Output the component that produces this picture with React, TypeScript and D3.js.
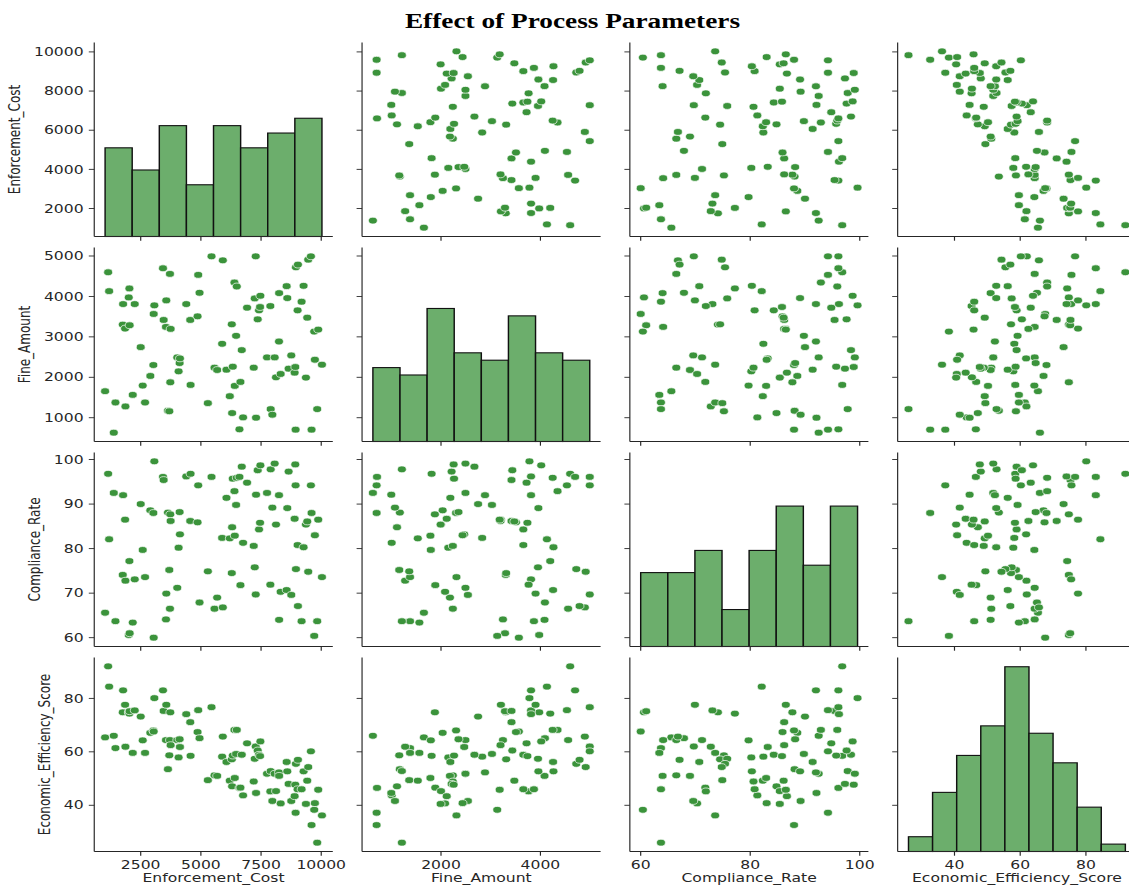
import React from 'react';
import * as d3 from 'd3';

// per-record values
const enforcementCost = [
  1020, 1147, 1188, 1381, 1450, 1754, 1768, 1851, 1865, 2003,
  2030, 2040, 2169, 2251, 2500, 2583, 2680, 2900, 3025, 3039,
  3066, 3425, 3453, 3550, 3563, 3632, 3688, 3715, 3729, 3743,
  4019, 4074, 4116, 4130, 4392, 4558, 4572, 4862, 4889, 4944,
  5290, 5442, 5566, 5676, 5883, 5911, 6063, 6201, 6284, 6298,
  6325, 6394, 6408, 6463, 6491, 6602, 6643, 6698, 6753, 6919,
  7195, 7237, 7278, 7292, 7361, 7416, 7458, 7472, 7748, 7886,
  7900, 7969, 8065, 8121, 8245, 8250, 8314, 8563, 8590, 8645,
  8756, 8894, 8922, 8935, 8949, 9018, 9032, 9184, 9267, 9364,
  9419, 9460, 9571, 9598, 9709, 9736, 9833, 9875, 10030,
];

const fineAmount = [
  1656, 4598, 4131, 630, 1377, 3303, 3811, 3205, 1279, 3975,
  4197, 3287, 1565, 3811, 2746, 1795, 1377, 2033, 2303, 3566,
  3779, 4697, 3418, 3246, 3902, 1172, 1160, 4557, 1877, 3197,
  2492, 2147, 2352, 2467, 3811, 3418, 1811, 3508, 4533, 4090,
  1361, 4992, 2238, 2180, 2828, 4893, 2188, 1533, 3311, 1115,
  2262, 4344, 1787, 3025, 4246, 713, 1885, 2672, 1008, 3721,
  2238, 3951, 4992, 1000, 3434, 3656, 3738, 4016, 2492, 3762,
  1213, 1074, 2492, 2000, 2885, 4082, 2082, 4254, 3959, 2213,
  2541, 2115, 2254, 705, 4721, 3656, 4787, 3869, 4262, 1992,
  3475, 4910, 4992, 705, 3131, 2434, 1213, 3180, 2311,
];

const complianceRate = [
  65.6, 96.8, 82.1, 92.5, 63.7, 74.1, 92.0, 86.5, 72.8, 60.6,
  77.2, 61.0, 63.4, 73.1, 90.0, 79.7, 73.6, 88.6, 88.0, 60.0,
  99.6, 96.1, 95.4, 64.1, 69.9, 88.1, 75.2, 66.5, 87.7, 86.2,
  71.2, 80.2, 88.2, 83.2, 96.2, 86.2, 96.8, 85.9, 94.2, 67.9,
  74.9, 96.1, 66.5, 69.0, 82.4, 66.8, 91.4, 82.3, 74.5, 84.8,
  95.7, 92.9, 82.9, 89.8, 95.9, 96.1, 71.8, 98.4, 81.3, 94.8,
  80.6, 75.8, 69.7, 92.1, 97.6, 84.3, 85.8, 98.7, 92.5, 71.9,
  97.8, 89.2, 99.1, 85.4, 92.0, 64.0, 70.3, 70.7, 89.1, 97.3,
  69.6, 86.7, 98.9, 94.2, 75.4, 80.8, 67.1, 63.7, 80.3, 85.4,
  86.1, 74.8, 94.2, 88.0, 60.4, 83.0, 63.7, 86.5, 73.6,
];

const efficiencyScore = [
  65.4, 92.0, 84.4, 66.0, 61.4, 74.8, 83.0, 77.6, 61.9, 74.8,
  74.3, 75.2, 59.6, 75.5, 73.2, 64.3, 59.6, 67.1, 68.0, 67.6,
  80.1, 83.0, 75.3, 64.4, 77.6, 53.5, 58.7, 64.4, 74.8, 62.5,
  64.4, 57.9, 64.7, 61.8, 74.1, 71.1, 58.5, 67.4, 75.6, 65.1,
  49.4, 76.7, 51.2, 51.0, 58.2, 65.7, 56.2, 49.2, 57.2, 47.1,
  58.6, 68.2, 50.2, 59.2, 68.2, 46.5, 46.6, 58.9, 43.7, 63.2,
  48.9, 57.4, 62.0, 44.6, 60.5, 58.9, 58.4, 63.9, 51.8, 45.2,
  52.8, 41.6, 51.8, 45.3, 52.3, 51.0, 40.7, 56.2, 52.7, 48.0,
  41.6, 43.4, 47.7, 37.2, 55.5, 46.0, 57.0, 46.0, 52.7, 40.5,
  49.2, 54.3, 60.2, 32.6, 38.3, 40.8, 26.0, 45.8, 36.2,
];

// histogram counts on the diagonal
const ecCounts = [12, 9, 15, 7, 15, 12, 14, 16];
const faCounts = [10, 9, 18, 12, 11, 17, 12, 11];
const crCounts = [10, 10, 13, 5, 13, 19, 11, 19];
const eesCounts = [2, 8, 13, 17, 25, 16, 12, 6, 1];

const varNames = ['Enforcement_Cost', 'Fine_Amount', 'Compliance_Rate', 'Economic_Efficiency_Score'];
const xTickValues = [[2500, 5000, 7500, 10000], [2000, 4000], [60, 80, 100], [40, 60, 80]];
const yTickValues = [[2000, 4000, 6000, 8000, 10000], [1000, 2000, 3000, 4000, 5000], [60, 70, 80, 90, 100], [40, 60, 80]];

const W = 1129;
const H = 888;
const SX = 1.3; // the picture is stretched sideways
const colX0 = 72.5;
const colStep = 206;
const panelW = 183.5;
const rowY0 = 42.5;
const rowStep = 205;
const panelH = 194;
const tickLen = 4.2;
const digitW = 7.63;

const pointColor = '#3b933b';
const barColor = '#6cae6c';
const ink = '#262626';
const font = 'DejaVu Sans, sans-serif';

export default function App() {
  const series = [enforcementCost, fineAmount, complianceRate, efficiencyScore];
  const counts = [ecCounts, faCounts, crCounts, eesCounts];

  const extents = series.map(s => d3.extent(s) as [number, number]);
  const domains = extents.map(([lo, hi]) => {
    const pad = (hi - lo) * 0.05;
    return [lo - pad, hi + pad];
  });
  const xScales = domains.map((d, j) =>
    d3.scaleLinear().domain(d).range([colX0 + j * colStep, colX0 + j * colStep + panelW]));
  const yScales = domains.map((d, i) =>
    d3.scaleLinear().domain(d).range([rowY0 + i * rowStep + panelH, rowY0 + i * rowStep]));

  // diagonal axes share their count scale
  const countMax = (d3.max(counts.flat()) ?? 1) * 1.05;

  const panels: React.ReactNode[] = [];
  for (let i = 0; i < 4; i++) {
    for (let j = 0; j < 4; j++) {
      const x = xScales[j];
      const y = yScales[i];
      const left = colX0 + j * colStep;
      const top = rowY0 + i * rowStep;
      const bottom = top + panelH;
      let marks: React.ReactNode;
      if (i === j) {
        const [lo, hi] = extents[j];
        const n = counts[j].length;
        const bw = (hi - lo) / n;
        const cy = d3.scaleLinear().domain([0, countMax]).range([bottom, top]);
        marks = counts[j].map((c, k) => (
          <rect key={k} x={x(lo + k * bw)} y={cy(c)} width={x(lo + (k + 1) * bw) - x(lo + k * bw)}
            height={bottom - cy(c)} fill={barColor} stroke="#111" strokeWidth={1.1} />
        ));
      } else {
        marks = series[j].map((v, k) => (
          <circle key={k} cx={x(v)} cy={y(series[i][k])} r={3.4} fill={pointColor} stroke="#fff" strokeWidth={0.6} />
        ));
      }
      const maxDigits = d3.max(yTickValues[i], t => String(t).length) ?? 1;
      panels.push(
        <g key={`${i}-${j}`}>
          {marks}
          <line x1={left} x2={left} y1={top} y2={bottom} stroke={ink} strokeWidth={0.9} />
          <line x1={left} x2={left + panelW} y1={bottom} y2={bottom} stroke={ink} strokeWidth={0.9} />
          {yTickValues[i].map(t => (
            <g key={`y${t}`}>
              <line x1={left - tickLen} x2={left} y1={y(t)} y2={y(t)} stroke={ink} strokeWidth={0.9} />
              {j === 0 && (
                <text x={left - tickLen - 4} y={y(t)} dy="0.35em" textAnchor="end" fontSize={12}
                  fontFamily={font} fill={ink}>{t}</text>
              )}
            </g>
          ))}
          {xTickValues[j].map(t => (
            <g key={`x${t}`}>
              <line x1={x(t)} x2={x(t)} y1={bottom} y2={bottom + tickLen} stroke={ink} strokeWidth={0.9} />
              {i === 3 && (
                <text x={x(t)} y={bottom + tickLen + 4} dy="0.75em" textAnchor="middle" fontSize={12}
                  fontFamily={font} fill={ink}>{t}</text>
              )}
            </g>
          ))}
          {j === 0 && (
            <text transform={`translate(${left - tickLen - 4 - maxDigits * digitW - 10.5},${(top + bottom) / 2}) rotate(-90)`}
              textAnchor="middle" fontSize={12} fontFamily={font} fill={ink}>{varNames[i]}</text>
          )}
          {i === 3 && (
            <text x={left + panelW / 2} y={bottom + 22} dy="0.75em" textAnchor="middle" fontSize={12}
              fontFamily={font} fill={ink}>{varNames[j]}</text>
          )}
        </g>
      );
    }
  }

  return (
    <svg width={W} height={H} style={{ position: 'absolute', left: 0, top: 0, background: '#fff' }}>
      <rect width={W} height={H} fill="#fff" />
      <g transform={`scale(${SX},1)`}>
        <text x={572.5 / SX} y={28} textAnchor="middle" fontSize={21} fontWeight="bold"
          fontFamily="Liberation Serif, serif" fill="#000">Effect of Process Parameters</text>
        {panels}
      </g>
    </svg>
  );
}
